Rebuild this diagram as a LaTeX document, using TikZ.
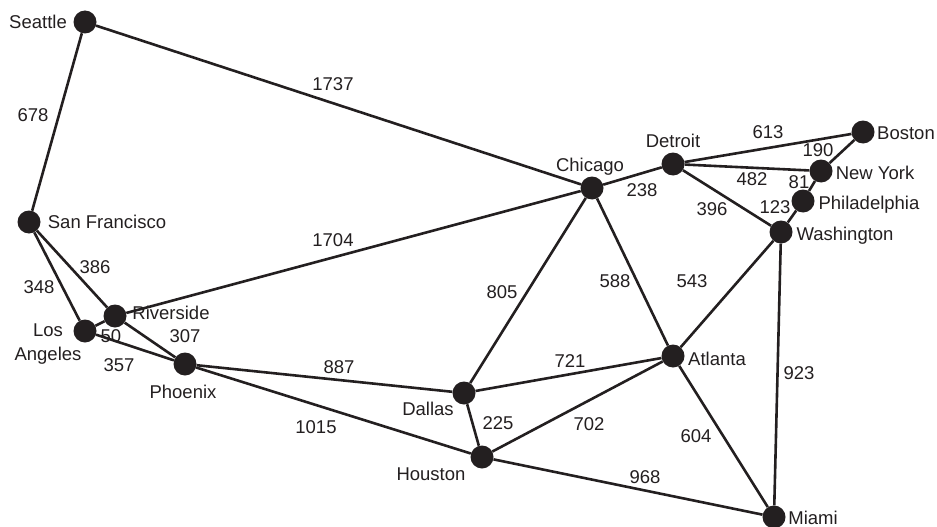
\documentclass[tikz,border=0pt]{standalone}
\usepackage{fontspec}
\setmainfont{Liberation Sans}
\definecolor{ink}{RGB}{35,31,32}
\begin{document}
\begin{tikzpicture}[x=1pt,y=-1pt,
  city/.style={circle,fill=ink,inner sep=0pt,minimum size=23pt},
  road/.style={draw=ink,line width=2.6pt},
  txt/.style={inner sep=0pt,anchor=base,text=ink,font=\fontsize{18.5}{24}\selectfont},
  ml/.style={inner sep=0pt,anchor=north,align=center,text=ink,font=\fontsize{18.5}{24}\selectfont}]
\useasboundingbox (0,0) rectangle (937,527);
% cities
\node[city] (sea) at (85,22) {};
\node[city] (sf)  at (29,222) {};
\node[city] (la)  at (85,331) {};
\node[city] (riv) at (115,316) {};
\node[city] (phx) at (185,364) {};
\node[city] (chi) at (592,188) {};
\node[city] (det) at (673,164) {};
\node[city] (bos) at (863,132) {};
\node[city] (ny)  at (821,171) {};
\node[city] (phi) at (803,201) {};
\node[city] (was) at (781,232) {};
\node[city] (atl) at (673,356) {};
\node[city] (dal) at (464,393) {};
\node[city] (hou) at (482,457) {};
\node[city] (mia) at (774,517) {};
% roads
\draw[road] (sea) -- (sf);
\draw[road] (sea) -- (chi);
\draw[road] (sf) -- (la);
\draw[road] (sf) -- (riv);
\draw[road] (la) -- (riv);
\draw[road] (la) -- (phx);
\draw[road] (riv) -- (phx);
\draw[road] (riv) -- (chi);
\draw[road] (phx) -- (dal);
\draw[road] (phx) -- (hou);
\draw[road] (chi) -- (dal);
\draw[road] (chi) -- (atl);
\draw[road] (chi) -- (det);
\draw[road] (det) -- (bos);
\draw[road] (det) -- (ny);
\draw[road] (det) -- (was);
\draw[road] (bos) -- (ny);
\draw[road] (ny) -- (phi);
\draw[road] (phi) -- (was);
\draw[road] (was) -- (atl);
\draw[road] (was) -- (mia);
\draw[road] (dal) -- (atl);
\draw[road] (dal) -- (hou);
\draw[road] (hou) -- (atl);
\draw[road] (hou) -- (mia);
\draw[road] (atl) -- (mia);
% distance labels
\node[txt] (d678)  at (33,121.6) {678};
\node[txt] (d1737) at (333,90.6) {1737};
\node[txt] (d348)  at (39,293.6) {348};
\node[txt] (d386)  at (95,273.6) {386};
\node[txt] (d50)   at (111,342.6) {50};
\node[txt] (d307)  at (185,342.6) {307};
\node[txt] (d357)  at (119,371.6) {357};
\node[txt] (d1704) at (333,246.6) {1704};
\node[txt] (d887)  at (339,373.6) {887};
\node[txt] (d1015) at (316,433.6) {1015};
\node[txt] (d805)  at (502,298.6) {805};
\node[txt] (d588)  at (615,287.6) {588};
\node[txt] (d238)  at (642,196.6) {238};
\node[txt] (d613)  at (768,138.6) {613};
\node[txt] (d482)  at (752,185.6) {482};
\node[txt] (d396)  at (712,215.6) {396};
\node[txt] (d190)  at (818,156.6) {190};
\node[txt] (d81)   at (799,188.6) {81};
\node[txt] (d123)  at (775,213.6) {123};
\node[txt] (d543)  at (692,287.6) {543};
\node[txt] (d923)  at (799,379.6) {923};
\node[txt] (d721)  at (570,367.6) {721};
\node[txt] (d225)  at (498,429.6) {225};
\node[txt] (d702)  at (589,430.6) {702};
\node[txt] (d968)  at (645,483.6) {968};
\node[txt] (d604)  at (696,442.6) {604};
% city names
\node[txt] (nsea) at (38,28.6) {Seattle};
\node[txt] (nsf)  at (107,228.6) {San Francisco};
\node[txt] (nriv) at (171,319.6) {Riverside};
\node[ml]  (nla)  at (48,323.4) {Los\\Angeles};
\node[txt] (nphx) at (183,398.6) {Phoenix};
\node[txt] (nchi) at (590,171.6) {Chicago};
\node[txt] (ndet) at (673,147.6) {Detroit};
\node[txt] (nbos) at (906,139.6) {Boston};
\node[txt] (nny)  at (875,179.6) {New York};
\node[txt] (nphi) at (869,209.6) {Philadelphia};
\node[txt] (nwas) at (845,240.6) {Washington};
\node[txt] (natl) at (717,365.6) {Atlanta};
\node[txt] (nmia) at (813,524.2) {Miami};
\node[txt] (ndal) at (428,415.6) {Dallas};
\node[txt] (nhou) at (431,480.6) {Houston};
\end{tikzpicture}
\end{document}
